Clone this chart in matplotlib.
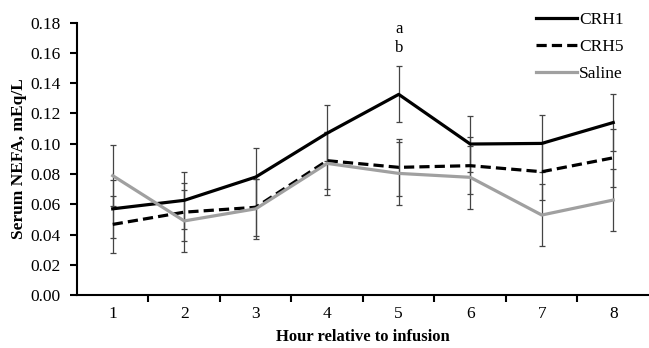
import matplotlib.pyplot as plt
import numpy as np

hours = [1, 2, 3, 4, 5, 6, 7, 8]
crh1 = [0.057, 0.0626, 0.078, 0.107, 0.1326, 0.0998, 0.1002, 0.114]
crh1_se = [0.019, 0.019, 0.019, 0.0185, 0.0185, 0.0187, 0.019, 0.0186]
crh5 = [0.0467, 0.0548, 0.058, 0.0888, 0.0844, 0.0855, 0.0815, 0.0907]
crh5_se = [0.0187, 0.019, 0.019, 0.019, 0.019, 0.019, 0.019, 0.019]
saline = [0.0789, 0.049, 0.057, 0.087, 0.0804, 0.0778, 0.0529, 0.0628]
saline_se = [0.020, 0.0205, 0.020, 0.021, 0.021, 0.021, 0.0205, 0.0205]
y_ticks = [0.00, 0.02, 0.04, 0.06, 0.08, 0.10, 0.12, 0.14, 0.16, 0.18]

plt.rcParams["font.family"] = ["Liberation Serif", "DejaVu Serif"]

fig = plt.figure(figsize=(6.49, 3.48), dpi=100)
ax = fig.add_axes([0.1186, 0.152, 0.8814, 0.783])

series = [
    ("CRH1", crh1, crh1_se, dict(color="black", linestyle="-")),
    ("CRH5", crh5, crh5_se, dict(color="black", linestyle=(0, (3.2, 1.6)))),
    ("Saline", saline, saline_se, dict(color="#a0a0a0", linestyle="-")),
]
for label, vals, se, style in series:
    ax.errorbar(hours, vals, yerr=se, fmt="none", ecolor="#444444",
                elinewidth=0.9, capsize=2.5, capthick=0.9, zorder=2)
for label, vals, se, style in series:
    ax.plot(hours, vals, linewidth=2.3, label=label, zorder=3, **style)

ax.text(5, 0.1755, "a", ha="center", va="center", fontsize=12)
ax.text(5, 0.163, "b", ha="center", va="center", fontsize=12)

ax.set_xlim(0.5, 8.5)
ax.set_ylim(0, 0.18)
ax.set_yticks(y_ticks)
ax.set_yticklabels([f"{v:.2f}" for v in y_ticks])
ax.set_xticks(hours)
ax.set_xticks(np.arange(1.5, 8.5, 1.0), minor=True)
ax.tick_params(axis="x", which="major", length=0, labelsize=12.5, pad=8)
ax.tick_params(axis="x", which="minor", length=5, width=1.5, direction="out")
ax.tick_params(axis="y", length=5, width=1.5, direction="out", labelsize=12.5, pad=7)

for side in ["top", "right"]:
    ax.spines[side].set_visible(False)
for side in ["left", "bottom"]:
    ax.spines[side].set_linewidth(1.5)

ax.set_xlabel("Hour relative to infusion", fontsize=12, fontweight="bold", labelpad=5)
ax.set_ylabel("Serum NEFA, mEq/L", fontsize=12.5, fontweight="bold", labelpad=2)

ax.legend(loc="upper right", bbox_to_anchor=(0.968, 1.065), frameon=False, fontsize=12.5,
          handlelength=2.4, handletextpad=0.1, labelspacing=0.62, borderaxespad=0)

fig.savefig("out.png", dpi=100)
